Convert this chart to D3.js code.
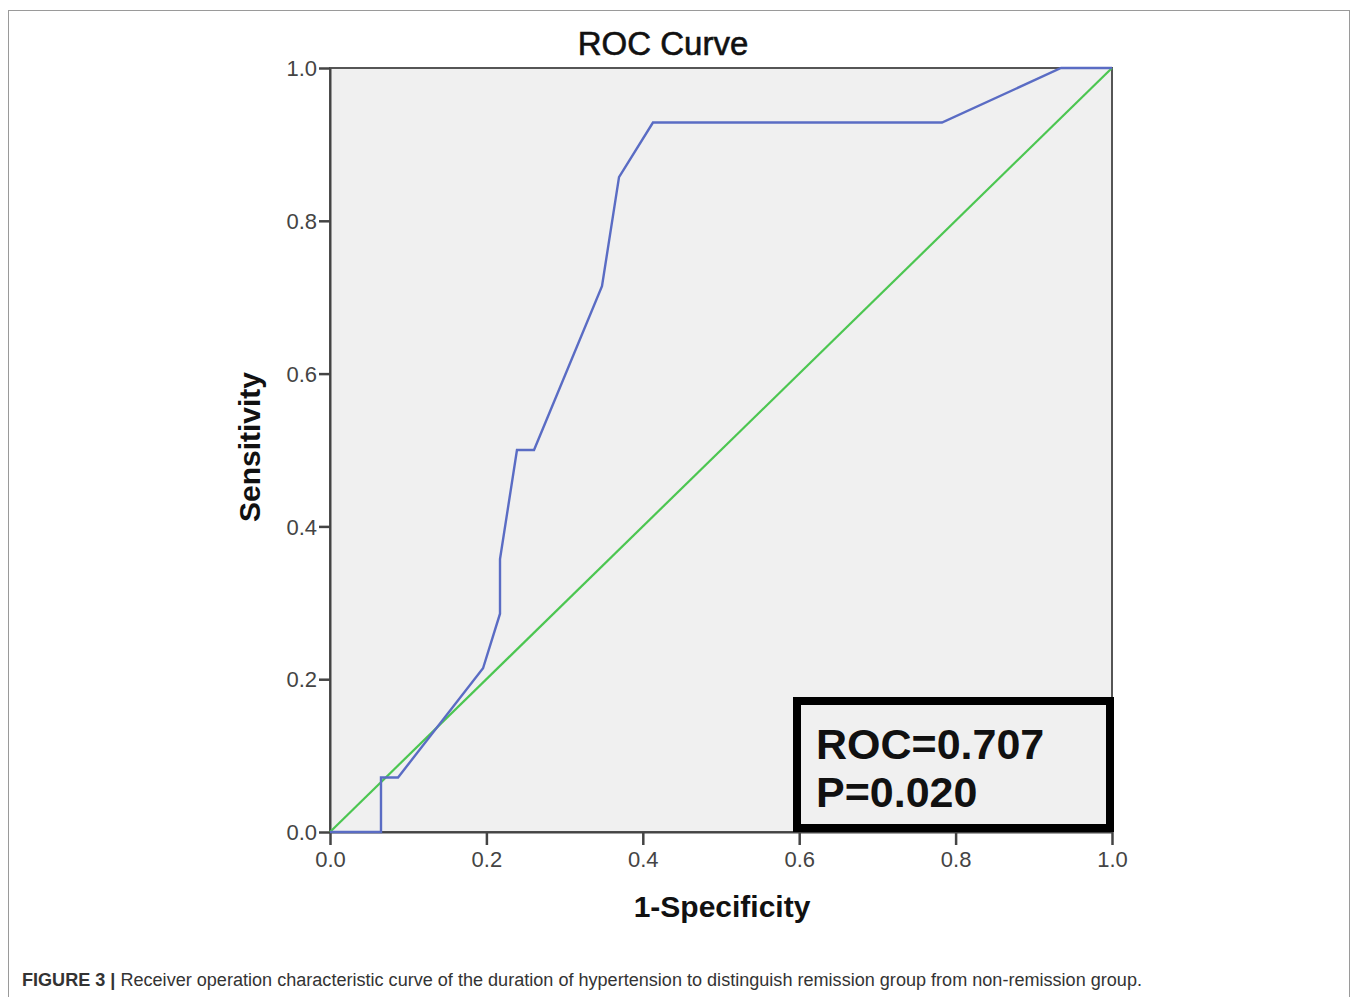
<!DOCTYPE html>
<html>
<head>
<meta charset="utf-8">
<script src="https://cdn.jsdelivr.net/npm/d3@7"></script>
<style>
  body { margin: 0; background: #fff; }
  svg { display: block; }
</style>
</head>
<body>
<div id="chart"></div>
<script>
const width = 1358;
const height = 997;

// ROC curve points: 1-specificity (x) and sensitivity (y)
const fpr = [0, 0.0652, 0.0652, 0.087, 0.1957, 0.2174, 0.2174, 0.2391, 0.2609, 0.3478, 0.3696, 0.413, 0.7826, 0.9348, 1];
const tpr = [0, 0, 0.0714, 0.0714, 0.2143, 0.2857, 0.3571, 0.5, 0.5, 0.7143, 0.8571, 0.9286, 0.9286, 1, 1];
const refLine = [0, 1];
const tickValues = [0, 0.2, 0.4, 0.6, 0.8, 1.0];
const statLines = ["ROC=0.707", "P=0.020"];

const svg = d3.select("#chart")
    .append("svg")
    .attr("width", width)
    .attr("height", height);

// figure frame
svg.append("rect")
    .attr("x", 8.5).attr("y", 10.5)
    .attr("width", 1341).attr("height", 1000)
    .attr("fill", "none")
    .attr("stroke", "#9a9a9a")
    .attr("stroke-width", 1);

const x = d3.scaleLinear().domain([0, 1]).range([330, 1112]);
const y = d3.scaleLinear().domain([0, 1]).range([832, 68]);

svg.append("rect")
    .attr("x", x(0)).attr("y", y(1))
    .attr("width", x(1) - x(0)).attr("height", y(0) - y(1))
    .attr("fill", "#f0f0f0")
    .attr("stroke", "#555")
    .attr("stroke-width", 2);

const xAxis = svg.append("g")
    .attr("transform", `translate(0,${y(0)})`)
    .call(d3.axisBottom(x).tickValues(tickValues).tickFormat(d3.format(".1f")).tickSize(13).tickSizeOuter(0));
const yAxis = svg.append("g")
    .attr("transform", `translate(${x(0)},0)`)
    .call(d3.axisLeft(y).tickValues(tickValues).tickFormat(d3.format(".1f")).tickSize(12).tickSizeOuter(0));

[xAxis, yAxis].forEach(g => {
    g.select(".domain").attr("stroke", "#444").attr("stroke-width", 2);
    g.selectAll(".tick line").attr("stroke", "#444").attr("stroke-width", 2.5);
    g.selectAll(".tick text")
        .attr("font-family", "Liberation Sans, Arial, sans-serif")
        .attr("font-size", 22)
        .attr("fill", "#444");
});
xAxis.selectAll(".tick text").attr("y", 18).attr("dy", "0.75em");
yAxis.selectAll(".tick text").attr("x", -13).attr("dy", "0.35em");
yAxis.selectAll(".tick line").attr("x2", -11);

// reference diagonal
svg.append("line")
    .attr("x1", x(refLine[0])).attr("y1", y(refLine[0]))
    .attr("x2", x(refLine[1])).attr("y2", y(refLine[1]))
    .attr("stroke", "#4cc651")
    .attr("stroke-width", 2.2);

const line = d3.line()
    .x(d => x(d[0]))
    .y(d => y(d[1]));

svg.append("path")
    .datum(fpr.map((v, i) => [v, tpr[i]]))
    .attr("d", line)
    .attr("fill", "none")
    .attr("stroke", "#5a6cc4")
    .attr("stroke-width", 2.4);

// title and axis labels
svg.append("text")
    .attr("x", 663).attr("y", 55)
    .attr("text-anchor", "middle")
    .attr("font-family", "Liberation Sans, Arial, sans-serif")
    .attr("font-size", 33)
    .attr("fill", "#111")
    .attr("stroke", "#111")
    .attr("stroke-width", 0.6)
    .text("ROC Curve");

svg.append("text")
    .attr("x", 722).attr("y", 917)
    .attr("text-anchor", "middle")
    .attr("font-family", "Liberation Sans, Arial, sans-serif")
    .attr("font-weight", "bold")
    .attr("font-size", 30)
    .attr("fill", "#111")
    .text("1-Specificity");

svg.append("text")
    .attr("transform", "translate(260,447) rotate(-90)")
    .attr("text-anchor", "middle")
    .attr("font-family", "Liberation Sans, Arial, sans-serif")
    .attr("font-weight", "bold")
    .attr("font-size", 30)
    .attr("fill", "#111")
    .text("Sensitivity");

// stats box
svg.append("rect")
    .attr("x", 797).attr("y", 701)
    .attr("width", 313).attr("height", 127)
    .attr("fill", "#f0f0f0")
    .attr("stroke", "#000")
    .attr("stroke-width", 8);

svg.selectAll("text.stat")
    .data(statLines)
    .join("text")
    .attr("class", "stat")
    .attr("x", 816)
    .attr("y", (d, i) => 759 + i * 48)
    .attr("font-family", "Liberation Sans, Arial, sans-serif")
    .attr("font-weight", "bold")
    .attr("font-size", 43)
    .attr("fill", "#111")
    .text(d => d);

// caption
const caption = svg.append("text")
    .attr("x", 22).attr("y", 986)
    .attr("font-family", "Liberation Sans Narrow, Liberation Sans, Arial, sans-serif")
    .attr("font-size", 18)
    .attr("fill", "#333")
    .attr("textLength", 1120)
    .attr("lengthAdjust", "spacingAndGlyphs");
caption.append("tspan")
    .attr("font-weight", "bold")
    .text("FIGURE 3 | ");
caption.append("tspan")
    .text("Receiver operation characteristic curve of the duration of hypertension to distinguish remission group from non-remission group.");
</script>
</body>
</html>
